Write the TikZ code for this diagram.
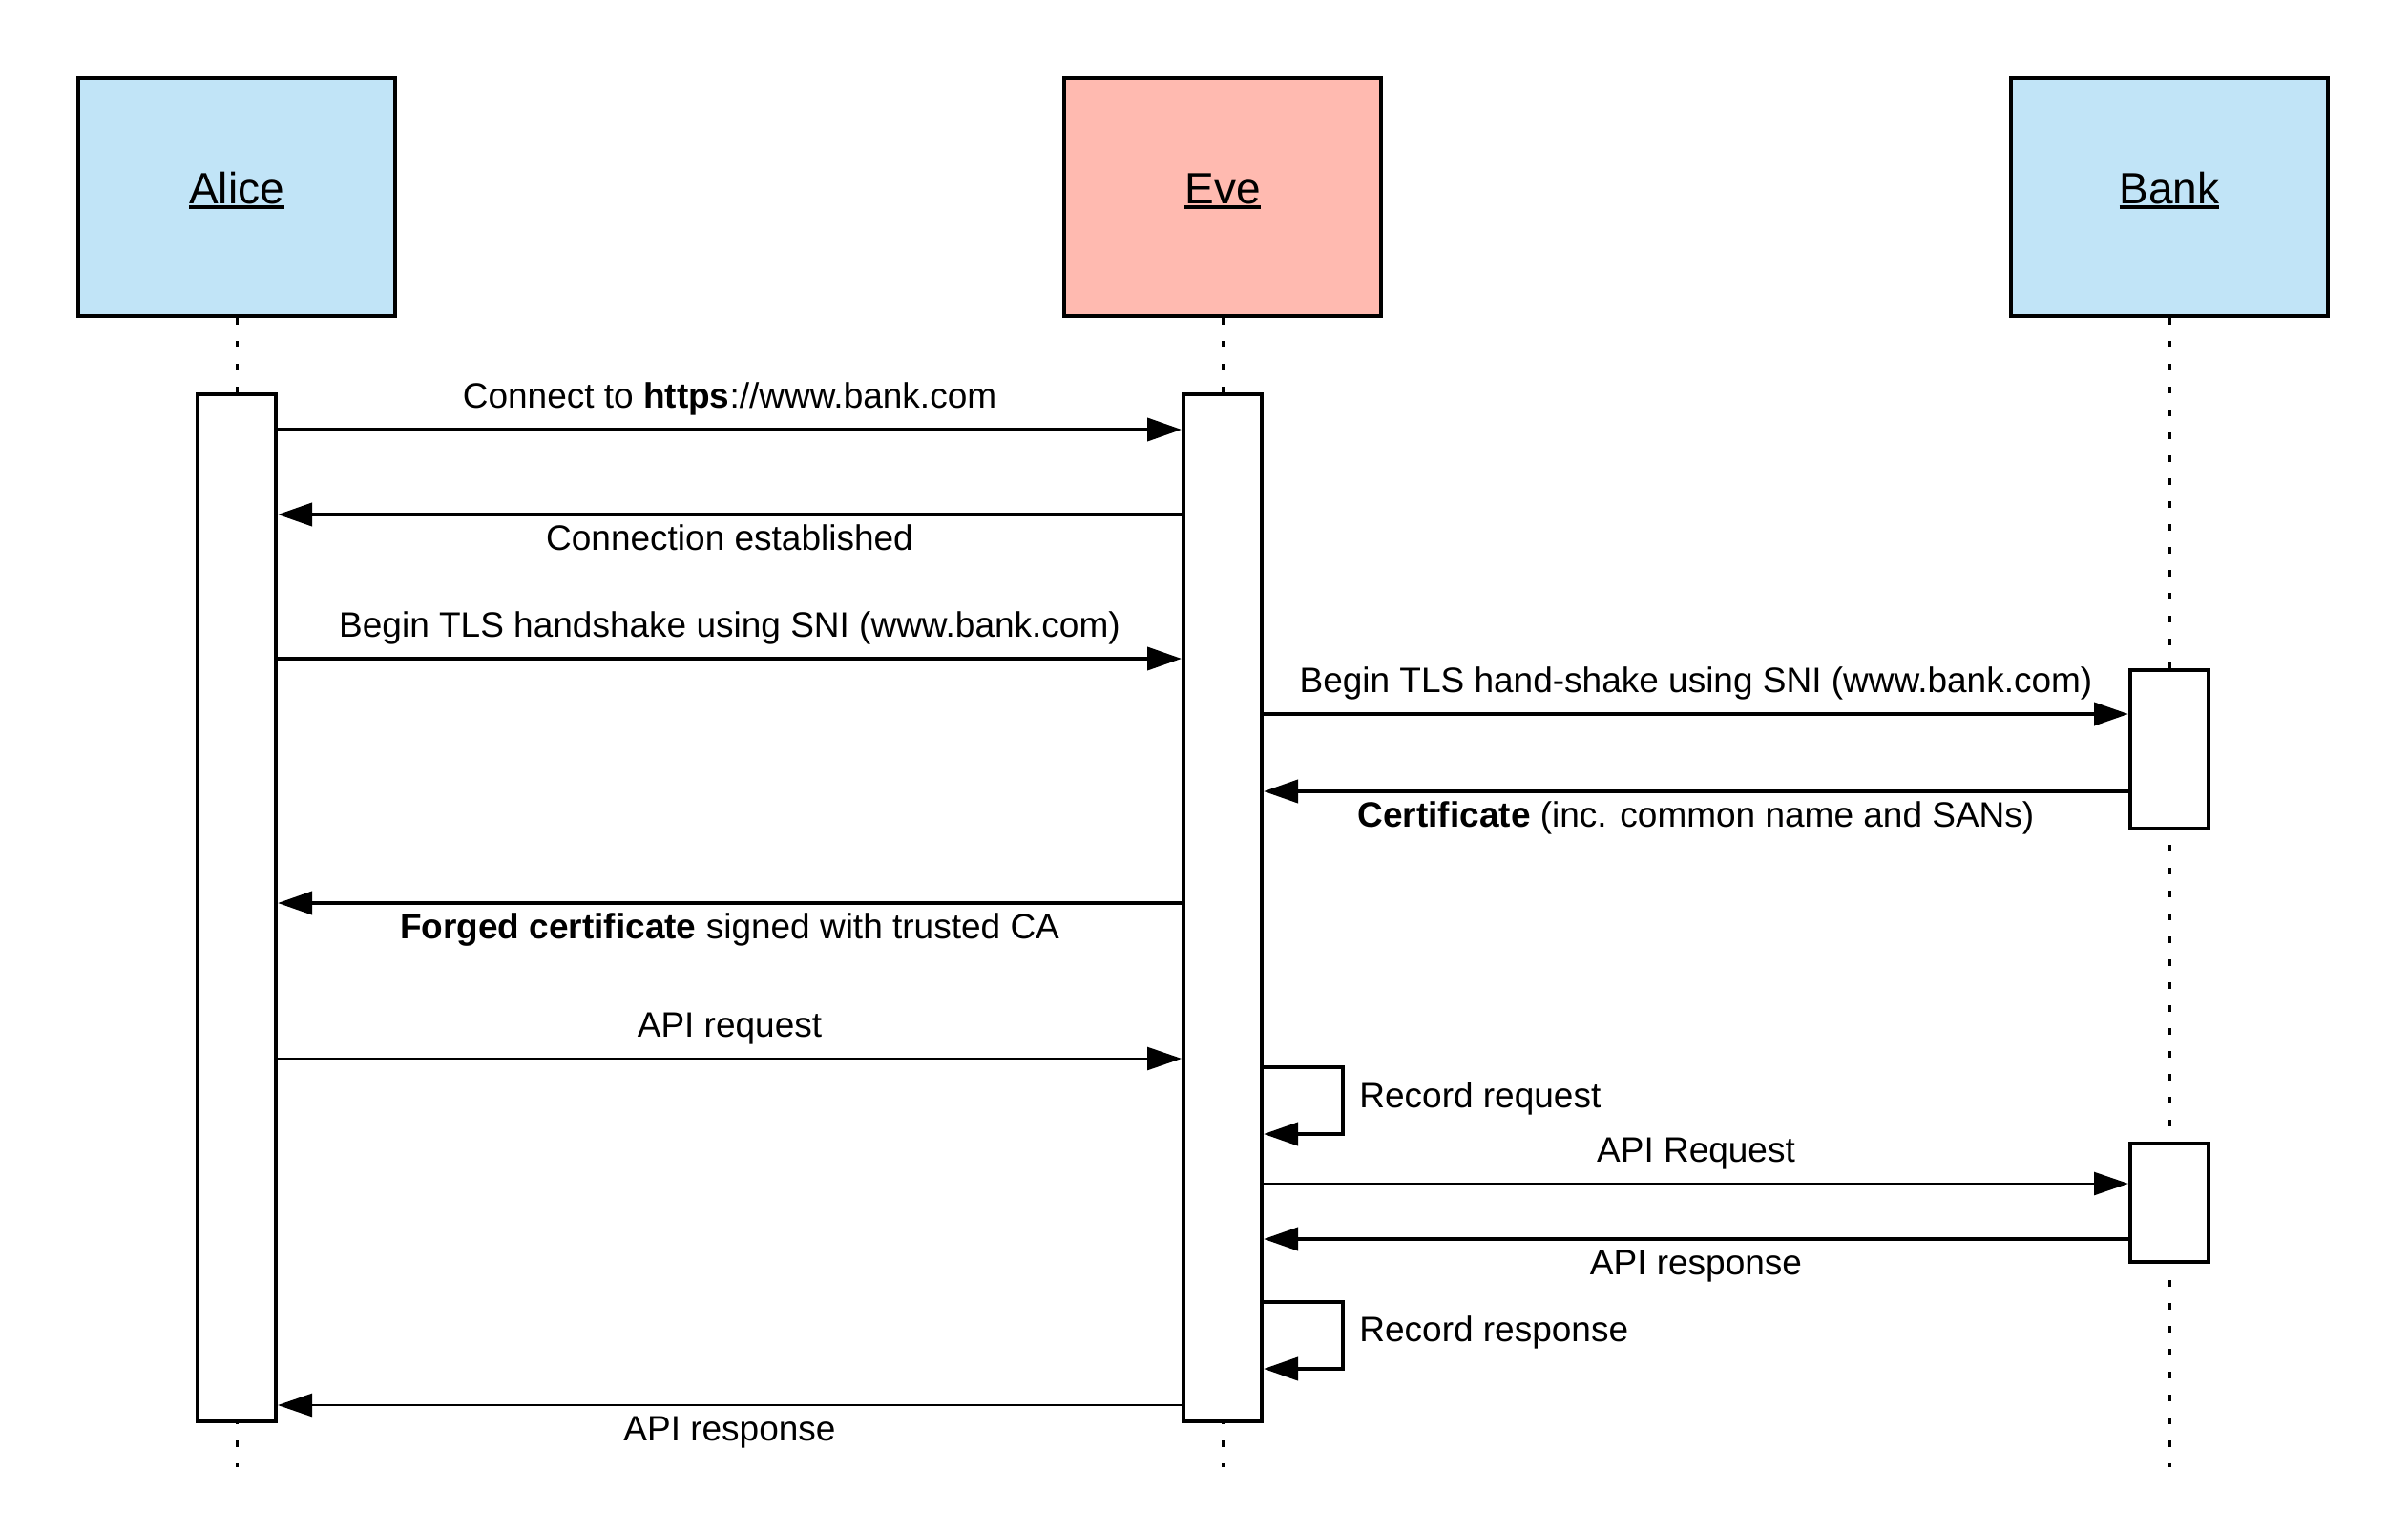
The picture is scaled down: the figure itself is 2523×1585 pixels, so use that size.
\documentclass[tikz,border=0pt]{standalone}
\usepackage{fontspec}
\setmainfont{Liberation Sans}
\usetikzlibrary{arrows.meta, positioning}
\definecolor{actorblue}{HTML}{C1E4F7}
\definecolor{actorred}{HTML}{FFBAB0}
\newcommand{\actorname}[1]{\setbox0\hbox{#1}\rlap{\copy0}\rule[-3pt]{\wd0}{2pt}}
\tikzstyle{actor} = [rectangle, draw=black, line width=2pt, minimum width=166pt, minimum height=124.5pt, inner sep=0pt, text height=17pt, text depth=10.5pt, font=\fontsize{23}{28}\selectfont]
\tikzstyle{activation} = [rectangle, draw=black, fill=white, line width=2pt, minimum width=41pt, inner sep=0pt]
\tikzstyle{lifeline} = [line width=1.5pt, dash pattern=on 3.5pt off 8.5pt]
\tikzstyle{msg} = [line width=2pt, -{Triangle[length=18pt, width=12pt]}]
\tikzstyle{thinmsg} = [msg, line width=1.3pt]
\tikzstyle{msgtext} = [font=\fontsize{18.5}{22}\selectfont, inner sep=0pt]
\tikzstyle{textabove} = [msgtext, midway, anchor=base, yshift=11.5pt]
\tikzstyle{textbelow} = [msgtext, midway, anchor=base, yshift=-18.5pt]

\begin{document}
\begin{tikzpicture}[x=0.5pt, y=-0.5pt, node distance=39pt]
    \useasboundingbox (0,0) rectangle (2523,1585);

    \node (alice) [actor, fill=actorblue] at (248,206.5) {\actorname{Alice}};
    \node (eve) [actor, fill=actorred, right=348.5pt of alice] {\actorname{Eve}};
    \node (bank) [actor, fill=actorblue, right=328pt of eve] {\actorname{Bank}};

    \draw [lifeline] (alice.south) -- (alice.south |- 0,1537);
    \draw [lifeline] (eve.south) -- (eve.south |- 0,1537);
    \draw [lifeline] (bank.south) -- (bank.south |- 0,1537);

    \node (aliceact) [activation, minimum height=538pt, below=of alice] {};
    \node (eveact) [activation, minimum height=538pt, below=of eve] {};
    \node (bankact1) [activation, minimum height=83pt, below=183.5pt of bank] {};
    \node (bankact2) [activation, minimum height=62pt, below=163pt of bankact1] {};

    \draw [msg] (aliceact.east |- 0,450) -- node[textabove] (connect) {Connect to \textbf{https}://www.bank.com} (eveact.west |- 0,450);
    \draw [msg] (eveact.west |- 0,539) -- node[textbelow] (established) {Connection established} (aliceact.east |- 0,539);
    \draw [msg] (aliceact.east |- 0,690) -- node[textabove] (hello) {Begin TLS handshake using SNI (www.bank.com)} (eveact.west |- 0,690);
    \draw [msg] (eveact.east |- 0,748) -- node[textabove] (hellobank) {Begin TLS hand-shake using SNI (www.bank.com)} (bankact1.west |- 0,748);
    \draw [msg] (bankact1.west |- 0,829) -- node[textbelow] (cert) {\textbf{Certificate} (inc. common name and SANs)} (eveact.east |- 0,829);
    \draw [msg] (eveact.west |- 0,946) -- node[textbelow] (forged) {\textbf{Forged certificate} signed with trusted CA} (aliceact.east |- 0,946);
    \draw [thinmsg] (aliceact.east |- 0,1109) -- node[textabove] (apireq) {API request} (eveact.west |- 0,1109);
    \draw [msg] (eveact.east |- 0,1118) -- ++(83,0) -- ++(0,70) -- (eveact.east |- 0,1188);
    \node (recreq) [msgtext, anchor=base west] at (1424,1160) {Record request};
    \draw [thinmsg] (eveact.east |- 0,1240) -- node[textabove] (apireqbank) {API Request} (bankact2.west |- 0,1240);
    \draw [msg] (bankact2.west |- 0,1298) -- node[textbelow] (apiresbank) {API response} (eveact.east |- 0,1298);
    \draw [msg] (eveact.east |- 0,1364) -- ++(83,0) -- ++(0,70) -- (eveact.east |- 0,1434);
    \node (recres) [msgtext, anchor=base west] at (1424,1405) {Record response};
    \draw [thinmsg] (eveact.west |- 0,1472) -- node[textbelow] (apires) {API response} (aliceact.east |- 0,1472);
\end{tikzpicture}
\end{document}
